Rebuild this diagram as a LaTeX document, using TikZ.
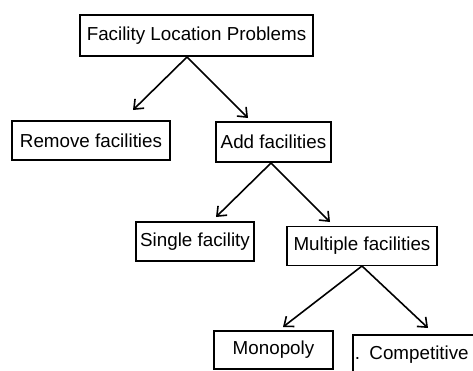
\documentclass[tikz,border=0pt]{standalone}
\usepackage{fontspec}
\setmainfont{Liberation Sans}
\usepackage{tikz}
\usetikzlibrary{arrows.meta,positioning}

\tikzset{
    box/.style={draw,line width=1.6pt,minimum height=39pt,inner sep=0pt,font=\fontsize{18.8}{22}\selectfont},
    arr/.style={line width=1.6pt,-{Straight Barb[length=8pt,width=13pt,line width=1.6pt]}}
}

\begin{document}
\begin{tikzpicture}[x=1pt,y=-1pt]
    \useasboundingbox (0,0) rectangle (473,370);
    \clip (0,0) rectangle (473,370);

    \node[box,minimum width=233pt,minimum height=41pt] (flp) at (196.5,35.5) {Facility Location Problems};
    \node[box,minimum width=158pt] (remove) at (91,140.5) {Remove facilities};
    \node[box,minimum width=115pt,minimum height=40pt] (add) at (273.5,142) {Add facilities};
    \node[box,minimum width=118pt] (single) at (195,241.5) {Single facility};
    \node[box,minimum width=150pt] (multiple) at (362,246) {Multiple facilities};
    \node[box,minimum width=119pt,minimum height=38pt] (monopoly) at (273.5,350) {Monopoly};
    \node[box,minimum width=140pt,minimum height=40pt,anchor=north west,text width=136pt,align=left,inner sep=2pt] (competitive) at (352,334) {. Competitive\\[4pt]};

    \coordinate (flpfork) at (187,57);
    \coordinate (addfork) at (271,163);
    \coordinate (multfork) at (362,266);
    \coordinate (removetip) at (133,110);
    \coordinate (addtip) at (248,118);
    \coordinate (singletip) at (216,217);
    \coordinate (multtip) at (330,222);
    \coordinate (monotip) at (283,327);
    \coordinate (comptip) at (428,328);

    \draw[arr] (flpfork) -- (removetip);
    \draw[arr] (flpfork) -- (addtip);
    \draw[arr] (addfork) -- (singletip);
    \draw[arr] (addfork) -- (multtip);
    \draw[arr] (multfork) -- (monotip);
    \draw[arr] (multfork) -- (comptip);
\end{tikzpicture}
\end{document}
